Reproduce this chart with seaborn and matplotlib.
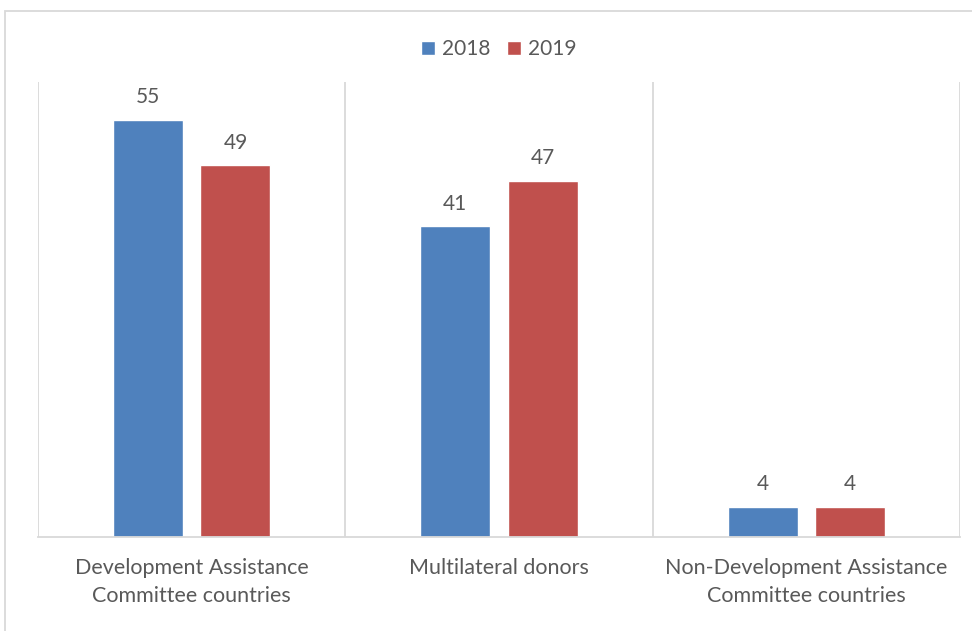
import matplotlib
matplotlib.use("Agg")
import matplotlib.pyplot as plt
import seaborn as sns
import pandas as pd
from matplotlib.patches import Rectangle

categories = ["Development Assistance\nCommittee countries", "Multilateral donors",
              "Non-Development Assistance\nCommittee countries"]
years = ["2018", "2019"]
values_2018 = [55, 41, 4]
values_2019 = [49, 47, 4]

df = pd.DataFrame({
    "category": categories * 2,
    "year": [years[0]] * 3 + [years[1]] * 3,
    "value": values_2018 + values_2019,
})

sns.set_theme(style="white")
plt.rcParams["font.family"] = ["Lato", "DejaVu Sans"]
text_color = "#595959"
grid_color = "#d9d9d9"

fig = plt.figure(figsize=(9.72, 6.31), dpi=100)
ax = fig.add_axes([38 / 972, 1 - 537 / 631, (960 - 38) / 972, (537 - 82) / 631])

sns.barplot(data=df, x="category", y="value", hue="year",
            palette=["#4f81bd", "#c0504d"], width=0.57, gap=0.2, saturation=1,
            ax=ax, legend=True)

ax.set_ylim(0, 60)
ax.set_xlim(-0.5, 2.5)
ax.set_xlabel("")
ax.set_ylabel("")
ax.set_yticks([])
ax.tick_params(axis="x", length=0, colors=text_color, labelsize=15.5, pad=15)
for lbl in ax.get_xticklabels():
    lbl.set_linespacing(1.5)

for s in ["top", "right", "left"]:
    ax.spines[s].set_visible(False)
ax.spines["bottom"].set_color(grid_color)
ax.spines["bottom"].set_linewidth(1.3)

for xb in [-0.5, 0.5, 1.5, 2.5]:
    ax.axvline(xb, color=grid_color, lw=1.3, zorder=0)

for cont in ax.containers:
    ax.bar_label(cont, fmt="%d", padding=9, color=text_color, fontsize=15)

leg = ax.legend(loc="upper center", bbox_to_anchor=(0.5, 1.135), ncol=2, frameon=False,
                fontsize=15, handlelength=0.65, handleheight=0.7, handletextpad=0.35,
                columnspacing=0.8, labelcolor=text_color)

fig.patches.append(Rectangle((5 / 972, -0.1), 1.2, 1.1 - 11 / 631, transform=fig.transFigure,
                             fill=False, edgecolor=grid_color, lw=1.3, zorder=-1))

fig.savefig("out.png", dpi=100)
